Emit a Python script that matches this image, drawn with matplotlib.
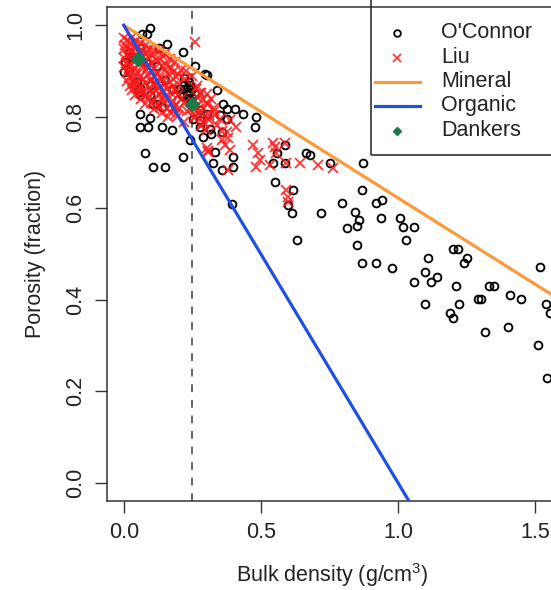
import matplotlib
matplotlib.use("Agg")
import matplotlib.pyplot as plt
from matplotlib.patches import Rectangle
import numpy as np

plt.rcParams['font.family'] = ['Liberation Sans', 'DejaVu Sans']
plt.rcParams['mathtext.fontset'] = 'custom'
plt.rcParams['mathtext.rm'] = 'Liberation Sans'
plt.rcParams['mathtext.it'] = 'Liberation Sans'

# ---------------- data ----------------
oconnor_x = [0.096, 0.084, 0.066, 0.157, 0.217, 0.260, 0.302, 0.339, 0.375, 0.405,
             0.435, 0.484, 0.478, 0.005, 0.000, 0.041, 0.059, 0.059, 0.108, 0.138,
             0.059, 0.096, 0.059, 0.090, 0.138, 0.175, 0.241, 0.078, 0.108, 0.150,
             0.217, 0.278, 0.302, 0.278, 0.320, 0.290, 0.357, 0.332, 0.326, 0.357,
             0.399, 0.399, 0.393, 0.551, 0.587, 0.545, 0.559, 0.587, 0.666, 0.678,
             0.751, 0.872, 0.617, 0.870, 0.599, 0.612, 0.630, 0.721, 0.797, 0.842,
             0.858, 0.813, 0.849, 0.921, 0.941, 0.850, 0.939, 1.008, 1.018, 1.060,
             1.030, 0.870, 0.921, 0.979, 1.109, 1.100, 1.142, 1.119, 1.058, 1.100,
             1.200, 1.218, 1.251, 1.242, 1.212, 1.222, 1.190, 1.202, 1.291, 1.303,
             1.331, 1.352, 1.319, 1.400, 1.410, 1.450, 1.519, 1.540, 1.509, 1.543,
             1.555, 0.048, 0.055, 0.097, 0.121, 0.218, 0.237, 0.220, 0.230, 0.240,
             0.250, 0.230, 0.240, 0.210, 0.250, 0.220, 0.260, 0.200, 0.240, 0.235,
             0.215, 0.030, 0.060, 0.020, 0.080, 0.120, 0.150, 0.180, 0.100, 0.020,
             0.130, 0.363, 0.296, 0.314, 0.253, 0.278, 0.350, 0.375]
oconnor_y = [0.993, 0.982, 0.982, 0.960, 0.942, 0.912, 0.891, 0.858, 0.818, 0.818,
             0.807, 0.800, 0.778, 0.920, 0.898, 0.869, 0.862, 0.847, 0.829, 0.822,
             0.807, 0.798, 0.778, 0.778, 0.778, 0.771, 0.749, 0.720, 0.690, 0.690,
             0.712, 0.814, 0.807, 0.778, 0.763, 0.756, 0.767, 0.723, 0.698, 0.683,
             0.712, 0.690, 0.609, 0.658, 0.738, 0.698, 0.720, 0.699, 0.720, 0.716,
             0.698, 0.698, 0.640, 0.640, 0.607, 0.589, 0.530, 0.589, 0.611, 0.592,
             0.574, 0.557, 0.561, 0.611, 0.619, 0.520, 0.578, 0.579, 0.558, 0.560,
             0.530, 0.480, 0.480, 0.470, 0.491, 0.461, 0.450, 0.439, 0.439, 0.391,
             0.510, 0.510, 0.491, 0.480, 0.431, 0.391, 0.372, 0.360, 0.401, 0.401,
             0.430, 0.430, 0.330, 0.341, 0.410, 0.401, 0.471, 0.391, 0.301, 0.230,
             0.372, 0.877, 0.854, 0.847, 0.829, 0.884, 0.876, 0.860, 0.850, 0.870,
             0.860, 0.840, 0.830, 0.850, 0.840, 0.870, 0.850, 0.860, 0.855, 0.865,
             0.845, 0.930, 0.950, 0.900, 0.920, 0.910, 0.880, 0.860, 0.870, 0.940,
             0.950, 0.829, 0.894, 0.774, 0.796, 0.793, 0.803, 0.796]

liu_x = [
    # scattered points beyond the main cluster
    0.260, 0.302, 0.308, 0.375, 0.332, 0.350, 0.387, 0.411, 0.380, 0.358,
    0.369, 0.387, 0.472, 0.490, 0.496, 0.484, 0.381, 0.545, 0.551, 0.557,
    0.533, 0.593, 0.642, 0.708, 0.763, 0.593, 0.599, 0.599, 0.587, 0.309,
    0.280, 0.300, 0.270, 0.310, 0.290, 0.330, 0.340, 0.300, 0.360, 0.260,
    0.280, 0.320,
    # main cluster
    0.000, 0.012, 0.031, 0.043,
    0.006, 0.021, 0.036, 0.062, 0.081,
    0.001, 0.016, 0.029, 0.052, 0.071, 0.092, 0.112,
    0.011, 0.026, 0.041, 0.058, 0.083, 0.102, 0.128, 0.152,
    0.002, 0.019, 0.048, 0.068, 0.093, 0.118, 0.142, 0.168,
    0.009, 0.033, 0.061, 0.079, 0.101, 0.131, 0.158, 0.188,
    0.000, 0.022, 0.042, 0.069, 0.089, 0.112, 0.139, 0.171, 0.208,
    0.012, 0.028, 0.052, 0.081, 0.098, 0.122, 0.151, 0.181, 0.199, 0.228,
    0.018, 0.041, 0.059, 0.088, 0.109, 0.131, 0.162, 0.192, 0.222, 0.248,
    0.011, 0.032, 0.049, 0.072, 0.101, 0.119, 0.142, 0.169, 0.198, 0.268,
    0.021, 0.038, 0.062, 0.079, 0.111, 0.129, 0.152, 0.178, 0.262,
    0.029, 0.052, 0.071, 0.092, 0.118, 0.141, 0.158, 0.191, 0.278,
    0.042, 0.058, 0.081, 0.102, 0.128, 0.149, 0.172, 0.198, 0.272, 0.302,
    0.062, 0.088, 0.109, 0.139, 0.161, 0.181, 0.212, 0.252, 0.288,
    0.078, 0.101, 0.122, 0.148, 0.171, 0.188, 0.219, 0.262, 0.309,
    0.109, 0.131, 0.158, 0.182, 0.201, 0.241, 0.281, 0.329,
    0.138, 0.168, 0.192, 0.229, 0.269, 0.298,
    0.161, 0.199, 0.258, 0.312,
    0.221, 0.292,
]
liu_y = [
    0.964, 0.731, 0.723, 0.767, 0.804, 0.796, 0.793, 0.778, 0.753, 0.749,
    0.738, 0.727, 0.738, 0.720, 0.705, 0.691, 0.683, 0.742, 0.734, 0.720,
    0.694, 0.698, 0.698, 0.694, 0.687, 0.640, 0.625, 0.614, 0.742, 0.726,
    0.852, 0.831, 0.818, 0.803, 0.788, 0.812, 0.781, 0.772, 0.768, 0.801,
    0.779, 0.838,
    0.972, 0.968, 0.974, 0.966,
    0.958, 0.962, 0.955, 0.961, 0.957,
    0.948, 0.951, 0.946, 0.953, 0.944, 0.949, 0.947,
    0.938, 0.942, 0.936, 0.941, 0.939, 0.934, 0.943, 0.937,
    0.928, 0.931, 0.926, 0.933, 0.929, 0.925, 0.932, 0.927,
    0.918, 0.922, 0.915, 0.921, 0.917, 0.924, 0.914, 0.919,
    0.908, 0.912, 0.906, 0.913, 0.909, 0.905, 0.911, 0.907, 0.903,
    0.898, 0.901, 0.896, 0.903, 0.899, 0.894, 0.902, 0.897, 0.893, 0.899,
    0.888, 0.892, 0.886, 0.891, 0.889, 0.884, 0.893, 0.887, 0.882, 0.889,
    0.878, 0.881, 0.876, 0.883, 0.879, 0.874, 0.882, 0.877, 0.872, 0.868,
    0.868, 0.871, 0.866, 0.873, 0.869, 0.864, 0.872, 0.867, 0.861,
    0.858, 0.861, 0.856, 0.862, 0.859, 0.854, 0.861, 0.857, 0.852,
    0.848, 0.851, 0.846, 0.852, 0.849, 0.844, 0.851, 0.847, 0.842, 0.849,
    0.838, 0.841, 0.836, 0.842, 0.839, 0.834, 0.841, 0.832, 0.839,
    0.828, 0.831, 0.826, 0.832, 0.829, 0.824, 0.831, 0.822, 0.829,
    0.818, 0.821, 0.816, 0.822, 0.819, 0.814, 0.812, 0.819,
    0.808, 0.811, 0.806, 0.812, 0.809, 0.804,
    0.799, 0.802, 0.797, 0.794,
    0.789, 0.786,
]

dankers_x = [0.051, 0.250]
dankers_y = [0.927, 0.827]

mineral_density = 2.65   # porosity = 1 - BD / 2.65
organic_density = 1.00   # porosity = 1 - BD / 1.00
bd_line = [0.0, 1.7]
cutoff_bd = 0.25

x_ticks = [0.0, 0.5, 1.0, 1.5]
x_ticklabels = ['0.0', '0.5', '1.0', '1.5']
y_ticks = [0.0, 0.2, 0.4, 0.6, 0.8, 1.0]
y_ticklabels = ['0.0', '0.2', '0.4', '0.6', '0.8', '1.0']

legend_labels = ["O'Connor", "Liu", "Mineral", "Organic", "Dankers"]

# ---------------- styles ----------------
FS = 15.5
TXT = '#222222'
RED = '#ff1a1a'
ORANGE = '#fb9a3c'
BLUE = '#1f4fe3'
GREEN = '#1b7a4a'

fig = plt.figure(figsize=(5.51, 5.90), dpi=100)
ax = fig.add_axes([107.3 / 551, 89 / 590, (557 - 107.3) / 551, 494 / 590])

ax.axvline(cutoff_bd, color='#666666', lw=1.4, linestyle=(0, (4, 4)), zorder=1)

ax.plot(oconnor_x, oconnor_y, linestyle='none', marker='o', ms=5.6, mfc='none',
        mec='black', mew=1.35, zorder=2)
ax.plot(liu_x, liu_y, linestyle='none', marker='x', ms=7.0, mec=RED, mew=1.35,
        alpha=0.85, zorder=3)

bl = np.array(bd_line)
ax.plot(bl, 1 - bl / mineral_density, color=ORANGE, lw=2.3, zorder=4)
ax.plot(bl, 1 - bl / organic_density, color=BLUE, lw=2.3, zorder=4)

ax.plot(dankers_x, dankers_y, linestyle='none', marker='D', ms=7.4, mfc=GREEN,
        mec=GREEN, zorder=5)

ax.set_xlim(-0.06, 1.58)
ax.set_ylim(-0.04, 1.04)

ax.set_xticks(x_ticks)
ax.set_xticklabels(x_ticklabels)
ax.set_yticks(y_ticks)
ax.set_yticklabels(y_ticklabels, rotation=90, va='center')
ax.tick_params(direction='out', length=8.3, width=1.0, colors='#333333',
               labelsize=FS, labelcolor=TXT)
ax.tick_params(axis='x', pad=6.5)
ax.tick_params(axis='y', pad=7)
for s in ax.spines.values():
    s.set_linewidth(1.1)
    s.set_color('#333333')

ax.set_xlabel('Bulk density (g/cm$^{3}$)', fontsize=FS, color=TXT, labelpad=13)
ax.set_ylabel('Porosity (fraction)', fontsize=FS, color=TXT, labelpad=14)

# ---------------- legend (R-style box at top right) ----------------
lx0, ly0 = 0.587, 0.700
ax.add_patch(Rectangle((lx0, ly0), 1 - lx0 + 0.02, 1 - ly0 + 0.02,
                       transform=ax.transAxes, fill=False, edgecolor='#222222',
                       lw=1.1, clip_on=False, zorder=6))
rows = [0.9474, 0.8968, 0.8482, 0.7996, 0.7490]
sym_x = 0.6444
kw = dict(transform=ax.transAxes, clip_on=False, zorder=7)
ax.plot([sym_x], [rows[0]], linestyle='none', marker='o', ms=4.8, mfc='none',
        mec='black', mew=1.3, **kw)
ax.plot([sym_x], [rows[1]], linestyle='none', marker='x', ms=6.2, mec=RED,
        mew=1.3, alpha=0.85, **kw)
ax.plot([0.5956, 0.6956], [rows[2]] * 2, color=ORANGE, lw=2.3, **kw)
ax.plot([0.5956, 0.6956], [rows[3]] * 2, color=BLUE, lw=2.3, **kw)
ax.plot([sym_x], [rows[4]], linestyle='none', marker='D', ms=4.4, mfc=GREEN,
        mec=GREEN, **kw)
for lab, ry in zip(legend_labels, rows):
    ax.text(0.7422, ry, lab, transform=ax.transAxes, fontsize=FS, color=TXT,
            va='center', ha='left', zorder=7)

fig.savefig('out.png', dpi=100)
